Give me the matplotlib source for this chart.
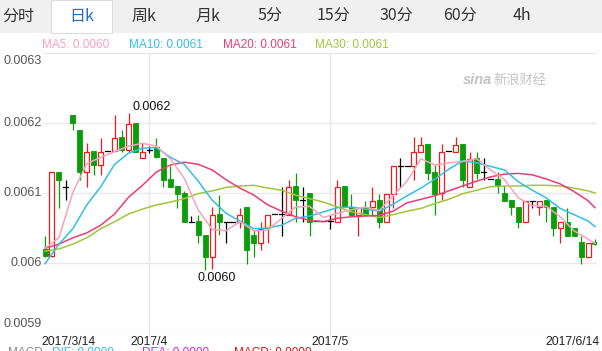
import matplotlib
matplotlib.use('Agg')
import matplotlib.pyplot as plt
from matplotlib.patches import Rectangle

# ---------------- data ----------------
opens = [0.006020, 0.006010, 0.006130, 0.006109, 0.006211, 0.006190, 0.006130, 0.006160, 0.006140, 0.006160,
         0.006160, 0.006180, 0.006161, 0.006200, 0.006150, 0.006161, 0.006166, 0.006150, 0.006120, 0.006110,
         0.006100, 0.006059, 0.006060, 0.006040, 0.006009, 0.006070, 0.006059, 0.006059, 0.006059, 0.006080,
         0.006040, 0.006029, 0.006050, 0.006070, 0.006070, 0.006069, 0.006110, 0.006090, 0.006100, 0.006060,
         0.006060, 0.006060, 0.006059, 0.006110, 0.006080, 0.006069, 0.006080, 0.006080, 0.006090, 0.006059,
         0.006099, 0.006139, 0.006139, 0.006139, 0.006159, 0.006170, 0.006130, 0.006100, 0.006160, 0.006159,
         0.006170, 0.006109, 0.006150, 0.006130, 0.006120, 0.006120, 0.006100, 0.006090, 0.006080, 0.006059,
         0.006089, 0.006080, 0.006090, 0.006080, 0.006050, 0.006059, 0.006050, 0.006030, 0.006009, 0.006030]
highs = [0.006039, 0.006130, 0.006130, 0.006119, 0.006211, 0.006190, 0.006171, 0.006160, 0.006178, 0.006160,
         0.006211, 0.006190, 0.006214, 0.006200, 0.006171, 0.006167, 0.006178, 0.006150, 0.006139, 0.006110,
         0.006103, 0.006067, 0.006069, 0.006040, 0.006080, 0.006097, 0.006059, 0.006059, 0.006079, 0.006080,
         0.006047, 0.006058, 0.006068, 0.006070, 0.006109, 0.006119, 0.006129, 0.006109, 0.006100, 0.006060,
         0.006060, 0.006069, 0.006119, 0.006110, 0.006099, 0.006079, 0.006088, 0.006109, 0.006099, 0.006099,
         0.006139, 0.006150, 0.006139, 0.006180, 0.006180, 0.006170, 0.006140, 0.006170, 0.006160, 0.006180,
         0.006170, 0.006159, 0.006159, 0.006150, 0.006120, 0.006130, 0.006110, 0.006090, 0.006080, 0.006089,
         0.006089, 0.006089, 0.006090, 0.006080, 0.006058, 0.006078, 0.006050, 0.006039, 0.006028, 0.006034]
lows = [0.006009, 0.006009, 0.006079, 0.006090, 0.006190, 0.006119, 0.006109, 0.006126, 0.006126, 0.006160,
        0.006160, 0.006159, 0.006159, 0.006159, 0.006150, 0.006157, 0.006150, 0.006109, 0.006109, 0.006079,
        0.006059, 0.006058, 0.006028, 0.005990, 0.005992, 0.006040, 0.006028, 0.006059, 0.006050, 0.005999,
        0.006009, 0.006019, 0.006028, 0.006070, 0.006039, 0.006069, 0.006059, 0.006059, 0.006039, 0.006060,
        0.006060, 0.006049, 0.006059, 0.006080, 0.006069, 0.006039, 0.006069, 0.006069, 0.006050, 0.006059,
        0.006079, 0.006109, 0.006139, 0.006119, 0.006159, 0.006119, 0.006069, 0.006090, 0.006160, 0.006159,
        0.006109, 0.006109, 0.006120, 0.006119, 0.006120, 0.006100, 0.006089, 0.006069, 0.006050, 0.006059,
        0.006078, 0.006069, 0.006059, 0.006039, 0.006028, 0.006039, 0.006039, 0.005999, 0.006009, 0.006026]
closes = [0.006010, 0.006130, 0.006119, 0.006109, 0.006200, 0.006130, 0.006158, 0.006140, 0.006158, 0.006160,
          0.006178, 0.006161, 0.006199, 0.006159, 0.006159, 0.006161, 0.006151, 0.006119, 0.006109, 0.006099,
          0.006059, 0.006059, 0.006040, 0.006009, 0.006069, 0.006059, 0.006059, 0.006059, 0.006068, 0.006019,
          0.006029, 0.006048, 0.006068, 0.006070, 0.006070, 0.006109, 0.006090, 0.006090, 0.006059, 0.006060,
          0.006060, 0.006060, 0.006109, 0.006080, 0.006069, 0.006079, 0.006069, 0.006089, 0.006059, 0.006099,
          0.006139, 0.006139, 0.006139, 0.006158, 0.006169, 0.006129, 0.006099, 0.006158, 0.006160, 0.006168,
          0.006119, 0.006148, 0.006129, 0.006130, 0.006120, 0.006110, 0.006089, 0.006080, 0.006059, 0.006089,
          0.006089, 0.006089, 0.006080, 0.006050, 0.006058, 0.006039, 0.006039, 0.006009, 0.006028, 0.006027]

ma_idx = [0, 2, 4, 6, 8, 10, 12, 14, 16, 18, 20, 22, 24, 26, 28, 30, 32, 34, 36, 38,
          40, 42, 44, 46, 48, 50, 52, 54, 56, 58, 60, 62, 64, 66, 68, 70, 72, 74, 76, 78, 79]
ma5 = [0.006021, 0.006036, 0.006101, 0.006142, 0.006151, 0.006159, 0.006167, 0.006171, 0.006167, 0.006149,
       0.006121, 0.006076, 0.006048, 0.006046, 0.006059, 0.006046, 0.006047, 0.006064, 0.006080, 0.006081,
       0.006065, 0.006071, 0.006076, 0.006080, 0.006075, 0.006096, 0.006117, 0.006149, 0.006140, 0.006143,
       0.006145, 0.006149, 0.006133, 0.006119, 0.006093, 0.006082, 0.006081, 0.006066, 0.006046, 0.006034, 0.006028]
ma10 = [0.005999, 0.006027, 0.006049, 0.006083, 0.006109, 0.006141, 0.006157, 0.006164, 0.006165, 0.006151,
        0.006141, 0.006117, 0.006090, 0.006071, 0.006060, 0.006049, 0.006050, 0.006054, 0.006064, 0.006067,
        0.006073, 0.006079, 0.006080, 0.006077, 0.006074, 0.006084, 0.006096, 0.006107, 0.006120, 0.006134,
        0.006146, 0.006143, 0.006138, 0.006133, 0.006116, 0.006104, 0.006093, 0.006078, 0.006069, 0.006060, 0.006052]
ma20 = [0.006021, 0.006027, 0.006036, 0.006043, 0.006054, 0.006070, 0.006094, 0.006111, 0.006130, 0.006140,
        0.006144, 0.006141, 0.006133, 0.006119, 0.006107, 0.006097, 0.006083, 0.006074, 0.006066, 0.006061,
        0.006059, 0.006064, 0.006066, 0.006067, 0.006068, 0.006074, 0.006086, 0.006091, 0.006096, 0.006103,
        0.006110, 0.006117, 0.006123, 0.006127, 0.006128, 0.006126, 0.006120, 0.006113, 0.006102, 0.006089, 0.006079]
ma30 = [0.006017, 0.006020, 0.006027, 0.006036, 0.006049, 0.006059, 0.006070, 0.006077, 0.006083, 0.006087,
        0.006092, 0.006099, 0.006103, 0.006108, 0.006110, 0.006111, 0.006107, 0.006104, 0.006097, 0.006092,
        0.006087, 0.006080, 0.006073, 0.006069, 0.006065, 0.006069, 0.006074, 0.006078, 0.006085, 0.006091,
        0.006099, 0.006104, 0.006109, 0.006110, 0.006110, 0.006111, 0.006111, 0.006110, 0.006107, 0.006103, 0.006100]

ma_names = ['MA5: 0.0060', 'MA10: 0.0061', 'MA20: 0.0061', 'MA30: 0.0061']
y_ticks = [0.0063, 0.0062, 0.0061, 0.0060, 0.0059]
y_labels = ['0.0063', '0.0062', '0.0061', '0.006', '0.0059']
x_tick_idx = [0, 15, 41, 79]
x_tick_labels = ['2017/3/14', '2017/4', '2017/5', '2017/6/14']
tabs = ['分时', '日k', '周k', '月k', '5分', '15分', '30分', '60分', '4h']
macd_parts = ['MACD', 'DIF: 0.0000', 'DEA: 0.0000', 'MACD: 0.0000']

# ---------------- styles ----------------
W, H = 602, 351
RED = '#ee1c1c'
GREEN = '#0a9e0a'
C_MA5, C_MA10, C_MA20, C_MA30 = '#f7a3bd', '#33bfe3', '#ec3d74', '#a2c63a'
LAT = ['Liberation Sans', 'DejaVu Sans']
CJK = ['Noto Sans CJK SC', 'DejaVu Sans']

def fx(px):
    return px / W

def fy(py):
    return 1 - py / H

fig = plt.figure(figsize=(6.02, 3.51), dpi=100)
fig.patch.set_facecolor('white')

# tab bar
fig.patches.append(Rectangle((0, fy(33)), 1, 33 / H, transform=fig.transFigure,
                             facecolor='#f0f0f0', edgecolor='none', zorder=0))
fig.patches.append(Rectangle((fx(51), fy(33)), fx(112) - fx(51), 33 / H, transform=fig.transFigure,
                             facecolor='white', edgecolor='#dddddd', linewidth=0.8, zorder=1))
tab_x = [18, 82, 144, 208, 270, 333, 396, 460, 522]
for t, xx in zip(tabs, tab_x):
    fig.text(fx(xx), fy(16), t, ha='center', va='center', fontsize=11.5,
             color='#2a6cc4' if t == '日k' else '#333333', family=CJK, zorder=3)

# MA legend row
leg_x = [42, 129, 223, 315]
for name, xx, col in zip(ma_names, leg_x, [C_MA5, C_MA10, C_MA20, C_MA30]):
    fig.text(fx(xx), fy(45), name, ha='left', va='center', fontsize=8.5, color=col, family=LAT)

# watermark
fig.text(fx(463), fy(80), 'sina', ha='left', va='center', fontsize=10.5, color='#c4c4c4',
         family=LAT, style='italic', fontweight='bold')
fig.text(fx(493), fy(80), '新浪财经', ha='left', va='center', fontsize=9.5, color='#c4c4c4', family=CJK)

# main axes
ax = fig.add_axes([fx(43), fy(333), fx(597) - fx(43), fy(53) - fy(333)])
ax.set_xlim(-0.29, 79.29)
ax.set_ylim(0.0059, 0.0063)
ax.axis('off')

for yv in y_ticks:
    ax.axhline(yv, color='#e9e9e9', lw=1.0, zorder=0)
for xi in x_tick_idx[1:3]:
    ax.plot([xi, xi], [0.0059 - 0.000004, 0.0063], color='#e9e9e9', lw=1.0, zorder=0, clip_on=False)

bw = 0.72
for i, (o, h, l, c) in enumerate(zip(opens, highs, lows, closes)):
    if c > o:
        ax.plot([i, i], [l, h], color=RED, lw=0.9, zorder=2, solid_capstyle='butt')
        ax.add_patch(Rectangle((i - bw / 2, o), bw, c - o, facecolor='white', edgecolor=RED,
                               lw=0.9, zorder=3))
    elif c < o:
        ax.plot([i, i], [l, h], color=GREEN, lw=0.9, zorder=2, solid_capstyle='butt')
        ax.add_patch(Rectangle((i - bw / 2, c), bw, o - c, facecolor=GREEN, edgecolor=GREEN,
                               lw=0.6, zorder=3))
    else:
        ax.plot([i, i], [l, h], color='black', lw=0.9, zorder=2, solid_capstyle='butt')
        ax.plot([i - bw / 2, i + bw / 2], [o, o], color='black', lw=0.9, zorder=3)

for vals, col in zip([ma30, ma20, ma10, ma5], [C_MA30, C_MA20, C_MA10, C_MA5]):
    ax.plot(ma_idx, vals, color=col, lw=1.1, zorder=4)

# high / low markers
imax = max(range(len(highs)), key=lambda k: highs[k])
imin = min(range(len(lows)), key=lambda k: lows[k])
ax.annotate(f'{highs[imax]:.4f}', (imax, highs[imax]), xytext=(4, 6), textcoords='offset pixels',
            ha='left', va='center', fontsize=9, color='#111111', family=LAT, zorder=5)
ax.annotate(f'{lows[imin]:.4f}', (imin, lows[imin]), xytext=(-8, -8), textcoords='offset pixels',
            ha='left', va='center', fontsize=9, color='#111111', family=LAT, zorder=5)

# y labels
for yv, lab in zip(y_ticks, y_labels):
    va = 'center'
    if yv == y_ticks[0]:
        va = 'top'
    elif yv == y_ticks[-1]:
        va = 'bottom'
    ax.annotate(lab, (0, yv), xycoords=('axes fraction', 'data'), xytext=(-1, -2 if va == 'top' else (3 if va == 'bottom' else 0)),
                textcoords='offset pixels', ha='right', va=va, fontsize=9, color='#555555', family=LAT)

# x labels
for xi, lab in zip(x_tick_idx, x_tick_labels):
    if xi == x_tick_idx[0]:
        ha, dx = 'left', -4
    elif xi == x_tick_idx[-1]:
        ha, dx = 'right', 5
    else:
        ha, dx = 'center', 0
    ax.annotate(lab, (xi, 0), xycoords=('data', 'axes fraction'), xytext=(dx, -3),
                textcoords='offset pixels', ha=ha, va='top', fontsize=8.7, color='#222222', family=LAT)

# MACD row (cut by the bottom edge)
macd_x = [8, 52, 142, 234]
macd_c = ['#888888', '#33bbee', '#dd22dd', '#dd1111']
for t, xx, col in zip(macd_parts, macd_x, macd_c):
    fig.text(fx(xx), fy(347), t, ha='left', va='top', fontsize=8.5, color=col, family=LAT)

fig.savefig('out.png', dpi=100, facecolor='white')
